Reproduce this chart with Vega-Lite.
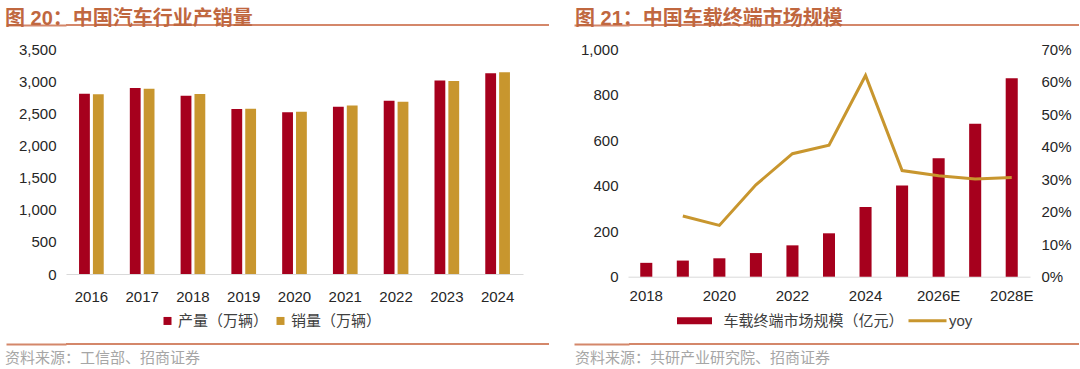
{
  "$schema": "https://vega.github.io/schema/vega-lite/v6.json",
  "padding": {"left": 5, "top": 8, "right": 0, "bottom": 0},
  "background": "white",
  "config": {
    "view": {"stroke": null},
    "font": "Liberation Sans, Noto Sans CJK SC",
    "axis": {"labelFont": "Liberation Sans, Noto Sans CJK SC", "labelFontSize": 15, "labelColor": "#262626", "grid": false, "title": null},
    "legend": {"labelFont": "Liberation Sans, Noto Sans CJK SC", "labelFontSize": 15, "labelColor": "#404040", "title": null, "labelLimit": 400},
    "title": {"font": "Liberation Sans, Noto Sans CJK SC"}
  },
  "resolve": {"scale": {"fill": "independent", "stroke": "independent"}, "legend": {"fill": "independent", "stroke": "independent"}},
  "spacing": 13.5,
  "vconcat": [
    {
      "hconcat": [
        {
          "width": 483, "height": 2,
          "view": {"fill": "#D4876A", "stroke": null},
          "title": {"text": "图 20：中国汽车行业产销量", "anchor": "start", "frame": "bounds", "fontSize": 20, "fontWeight": "bold", "color": "#C0673F", "offset": -4.5},
          "data": {"values": [{"v": 0}]},
          "mark": {"type": "point", "opacity": 0, "size": 0},
          "encoding": {"y": {"field": "v", "type": "quantitative", "scale": {"domain": [-1, 1]},
                             "axis": {"values": [0], "labels": false, "domain": false, "grid": false, "ticks": true, "tickSize": 60, "tickColor": "#D4876A", "tickWidth": 2}}}
        },
        {
          "width": 450, "height": 2,
          "view": {"fill": "#D4876A", "stroke": null},
          "title": {"text": "图 21：中国车载终端市场规模", "anchor": "start", "frame": "bounds", "dx": 2, "fontSize": 20, "fontWeight": "bold", "color": "#C0673F", "offset": -4.5},
          "data": {"values": [{"v": 0}]},
          "mark": {"type": "point", "opacity": 0, "size": 0},
          "encoding": {"y": {"field": "v", "type": "quantitative", "scale": {"domain": [-1, 1]},
                             "axis": {"values": [0], "labels": false, "domain": false, "grid": false, "ticks": true, "tickSize": 55, "tickColor": "#D4876A", "tickWidth": 2}}}
        }
      ],
      "spacing": 24
    },
    {
      "hconcat": [
        {
          "width": 457, "height": 224.5,
          "data": {"values": [
            {"year": "2016", "series": "产量（万辆）", "value": 2811.9},
            {"year": "2016", "series": "销量（万辆）", "value": 2802.8},
            {"year": "2017", "series": "产量（万辆）", "value": 2901.5},
            {"year": "2017", "series": "销量（万辆）", "value": 2887.9},
            {"year": "2018", "series": "产量（万辆）", "value": 2780.9},
            {"year": "2018", "series": "销量（万辆）", "value": 2808.1},
            {"year": "2019", "series": "产量（万辆）", "value": 2572.1},
            {"year": "2019", "series": "销量（万辆）", "value": 2576.9},
            {"year": "2020", "series": "产量（万辆）", "value": 2522.5},
            {"year": "2020", "series": "销量（万辆）", "value": 2531.1},
            {"year": "2021", "series": "产量（万辆）", "value": 2608.2},
            {"year": "2021", "series": "销量（万辆）", "value": 2627.5},
            {"year": "2022", "series": "产量（万辆）", "value": 2702.1},
            {"year": "2022", "series": "销量（万辆）", "value": 2686.4},
            {"year": "2023", "series": "产量（万辆）", "value": 3016.1},
            {"year": "2023", "series": "销量（万辆）", "value": 3009.4},
            {"year": "2024", "series": "产量（万辆）", "value": 3128.2},
            {"year": "2024", "series": "销量（万辆）", "value": 3143.6}
          ]},
          "mark": {"type": "bar"},
          "encoding": {
            "x": {"field": "year", "type": "nominal", "sort": null,
                  "scale": {"paddingInner": 0.514, "paddingOuter": 0.257},
                  "axis": {"labelAngle": 0, "ticks": false, "tickSize": 0, "labelPadding": 15, "domainColor": "#D9D9D9", "domainWidth": 1}},
            "xOffset": {"field": "series", "type": "nominal", "sort": null, "scale": {"paddingInner": 0.22}},
            "y": {"field": "value", "type": "quantitative",
                  "scale": {"domain": [0, 3500], "nice": false},
                  "axis": {"values": [0, 500, 1000, 1500, 2000, 2500, 3000, 3500], "format": ",.0f", "domain": false, "ticks": true, "tickSize": 60, "tickOpacity": 0, "labelPadding": -50}},
            "fill": {"field": "series", "type": "nominal", "sort": null,
                     "scale": {"domain": ["产量（万辆）", "销量（万辆）"], "range": ["#A6001D", "#C8962E"]},
                     "legend": {"orient": "none", "direction": "horizontal", "legendX": 94, "legendY": 263.7, "padding": 0, "symbolType": "square", "symbolSize": 64, "labelOffset": 3, "columnPadding": 4}}
          }
        },
        {
          "width": 402, "height": 227.2,
          "data": {"values": [
            {"year": "2018", "size": 61, "yoy": null},
            {"year": "2019", "size": 71, "yoy": 0.187},
            {"year": "2020", "size": 81, "yoy": 0.158},
            {"year": "2021", "size": 104, "yoy": 0.283},
            {"year": "2022", "size": 138, "yoy": 0.379},
            {"year": "2023", "size": 191, "yoy": 0.405},
            {"year": "2024", "size": 307, "yoy": 0.62},
            {"year": "2025E", "size": 401, "yoy": 0.327},
            {"year": "2026E", "size": 521, "yoy": 0.311},
            {"year": "2027E", "size": 673, "yoy": 0.301},
            {"year": "2028E", "size": 873, "yoy": 0.306}
          ]},
          "encoding": {
            "x": {"field": "year", "type": "nominal", "sort": null,
                  "scale": {"paddingInner": 0.67, "paddingOuter": 0.335},
                  "axis": {"values": ["2018", "2020", "2022", "2024", "2026E", "2028E"], "labelAngle": 0, "labelOverlap": false, "ticks": false, "tickSize": 0, "labelPadding": 12, "domainColor": "#D9D9D9", "domainWidth": 1}}
          },
          "layer": [
            {
              "mark": {"type": "bar"},
              "encoding": {
                "y": {"field": "size", "type": "quantitative",
                      "scale": {"domain": [0, 1000], "nice": false},
                      "axis": {"values": [0, 200, 400, 600, 800, 1000], "format": ",.0f", "domain": false, "ticks": true, "tickSize": 55, "tickOpacity": 0, "labelPadding": -45}},
                "fill": {"datum": "车载终端市场规模（亿元）", "type": "nominal",
                         "scale": {"range": ["#A6001D"]},
                         "legend": {"orient": "none", "legendX": 59, "legendY": 263.7, "padding": 0, "symbolType": "M-3.5,-0.7H3.5V0.7H-3.5Z", "symbolSize": 100, "labelOffset": 21.5}}
              }
            },
            {
              "mark": {"type": "line", "strokeWidth": 3},
              "encoding": {
                "y": {"field": "yoy", "type": "quantitative",
                      "scale": {"domain": [0, 0.7], "nice": false},
                      "axis": {"orient": "right", "values": [0, 0.1, 0.2, 0.3, 0.4, 0.5, 0.6, 0.7], "format": ".0%", "domain": false, "ticks": true, "tickSize": 48, "tickOpacity": 0, "labelPadding": -37}},
                "stroke": {"datum": "yoy", "type": "nominal",
                           "scale": {"range": ["#C8962E"]},
                           "legend": {"orient": "none", "legendX": 292, "legendY": 263.7, "padding": 0, "symbolType": "M-3.8,0H3.8", "symbolSize": 100, "symbolStrokeWidth": 3, "labelOffset": 14}}
              }
            }
          ],
          "resolve": {"scale": {"y": "independent"}}
        }
      ],
      "spacing": 50,
      "resolve": {"scale": {"fill": "independent", "stroke": "independent"}, "legend": {"fill": "independent", "stroke": "independent"}}
    },
    {
      "hconcat": [
        {
          "width": 483, "height": 2,
          "view": {"fill": "#D4876A", "stroke": null},
          "title": {"text": "资料来源：工信部、招商证券", "orient": "bottom", "anchor": "start", "frame": "bounds", "fontSize": 15, "fontWeight": "normal", "color": "#A6A6A6", "offset": 6},
          "data": {"values": [{"v": 0}]},
          "mark": {"type": "point", "opacity": 0, "size": 0},
          "encoding": {"y": {"field": "v", "type": "quantitative", "scale": {"domain": [-1, 1]},
                             "axis": {"values": [0], "labels": false, "domain": false, "grid": false, "ticks": true, "tickSize": 60, "tickColor": "#D4876A", "tickWidth": 2}}}
        },
        {
          "width": 450, "height": 2,
          "view": {"fill": "#D4876A", "stroke": null},
          "title": {"text": "资料来源：共研产业研究院、招商证券", "orient": "bottom", "anchor": "start", "frame": "bounds", "dx": 2, "fontSize": 15, "fontWeight": "normal", "color": "#A6A6A6", "offset": 6},
          "data": {"values": [{"v": 0}]},
          "mark": {"type": "point", "opacity": 0, "size": 0},
          "encoding": {"y": {"field": "v", "type": "quantitative", "scale": {"domain": [-1, 1]},
                             "axis": {"values": [0], "labels": false, "domain": false, "grid": false, "ticks": true, "tickSize": 55, "tickColor": "#D4876A", "tickWidth": 2}}}
        }
      ],
      "spacing": 24
    }
  ]
}
